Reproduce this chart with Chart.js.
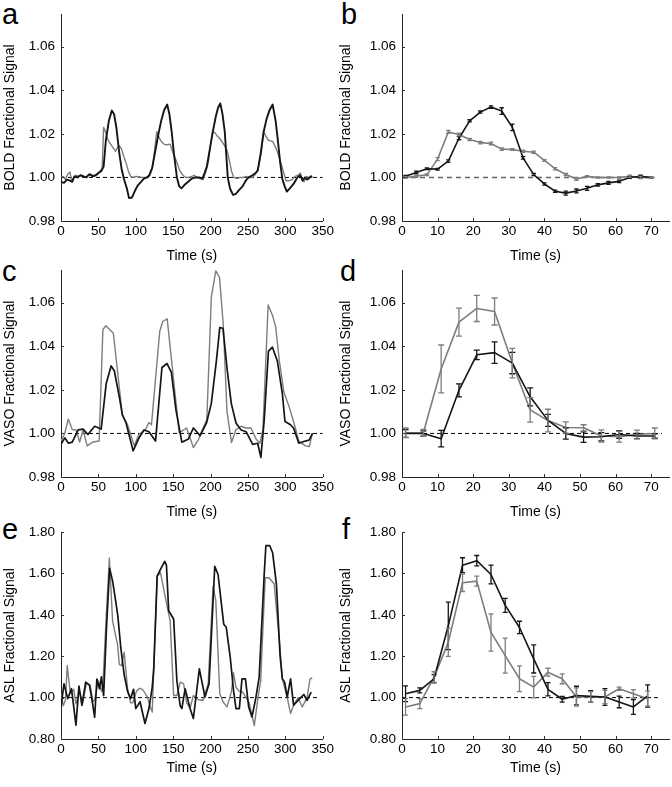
<!DOCTYPE html>
<html><head><meta charset="utf-8">
<script src="https://cdn.jsdelivr.net/npm/chart.js@4.4.1/dist/chart.umd.min.js"></script>
<style>
html,body{margin:0;padding:0;background:#fff;width:672px;height:787px;overflow:hidden;position:relative;}
canvas{position:absolute;}
.letter{position:absolute;font-family:"Liberation Sans",Arial,sans-serif;font-size:29px;line-height:29px;color:#000;}
</style></head><body>
<div class="letter" style="left:2px;top:0px">a</div>
<div class="letter" style="left:341px;top:0px">b</div>
<div class="letter" style="left:2px;top:257px">c</div>
<div class="letter" style="left:340px;top:257px">d</div>
<div class="letter" style="left:2px;top:515px">e</div>
<div class="letter" style="left:342px;top:515px">f</div>
<canvas id="pa" width="336" height="265" style="left:0;top:0"></canvas>
<canvas id="pb" width="336" height="265" style="left:336px;top:0"></canvas>
<canvas id="pc" width="336" height="265" style="left:0;top:256px"></canvas>
<canvas id="pd" width="336" height="265" style="left:336px;top:256px"></canvas>
<canvas id="pe" width="336" height="259" style="left:0;top:518px"></canvas>
<canvas id="pf" width="336" height="259" style="left:336px;top:518px"></canvas>
<script>
// ---------- DATA ----------
const timeTicksRun = [0,50,100,150,200,250,300,350];
const timeTicksAvg = [0,10,20,30,40,50,60,70];
const fracTicks = [0.98,1.00,1.02,1.04,1.06];
const aslTicks = [0.80,1.00,1.20,1.40,1.60,1.80];

// a: BOLD run, [time, signal]
const boldRunBlack = [[0,0.998],[4,0.9975],[8,0.999],[12,0.9985],[15,0.998],[18,1.0005],[22,1.0],[26,1.001],[30,1.0005],[34,1.0],[38,1.0015],[42,1.0005],[46,1.001],[50,1.002],[54,1.003],[57,1.005],[60,1.017],[64,1.026],[68,1.0307],[71,1.029],[74,1.023],[78,1.011],[81,1.004],[84,0.9995],[88,0.995],[91,0.9905],[95,0.9908],[99,0.994],[103,0.9965],[107,0.998],[111,0.9995],[115,1.0],[118,1.001],[122,1.0045],[126,1.012],[130,1.0195],[134,1.026],[138,1.031],[142,1.0335],[145,1.029],[148,1.021],[151,1.011],[155,1.0],[158,0.996],[161,0.995],[165,0.9965],[170,0.998],[175,0.9995],[180,1.0],[185,1.0],[189,0.9995],[192,1.002],[195,1.005],[199,1.013],[203,1.021],[207,1.028],[210,1.032],[213,1.034],[216,1.029],[219,1.021],[223,1.0],[226,0.995],[230,0.992],[234,0.9925],[238,0.9942],[243,0.996],[247,0.9985],[251,1.0],[256,1.001],[260,1.002],[263,1.003],[267,1.011],[271,1.021],[275,1.027],[279,1.031],[283,1.0335],[287,1.026],[290,1.017],[293,1.007],[296,0.9993],[299,0.996],[302,0.9935],[306,0.995],[311,0.997],[316,1.0],[320,1.001],[323,0.9985],[326,1.0],[329,0.999],[333,1.0],[336,1.0005]];
const boldRunGray = [[0,1.0],[3,1.0005],[6,0.999],[9,1.0015],[12,1.0025],[14,0.9985],[17,1.0],[20,1.001],[24,1.0005],[28,1.001],[32,1.0],[36,1.001],[40,1.0015],[44,1.0005],[48,1.001],[52,1.003],[55,1.004],[57,1.023],[60,1.0205],[62,1.018],[64,1.0165],[67,1.015],[70,1.0135],[73,1.012],[75,1.0135],[78,1.0145],[81,1.013],[84,1.0095],[87,1.0068],[90,1.003],[93,1.0005],[97,1.0],[100,1.0005],[104,1.0003],[108,1.0],[112,1.0],[116,1.0],[119,1.001],[122,1.004],[125,1.012],[128,1.021],[131,1.0185],[134,1.0165],[138,1.0152],[142,1.015],[146,1.0153],[149,1.012],[152,1.0095],[156,1.006],[159,1.003],[163,1.001],[167,1.0],[171,1.0],[175,1.0005],[178,1.001],[182,1.0],[186,0.9995],[190,0.999],[194,1.003],[197,1.007],[200,1.015],[203,1.021],[206,1.0205],[209,1.019],[212,1.018],[215,1.0165],[219,1.0145],[222,1.0125],[225,1.008],[228,1.003],[231,1.0],[235,0.9995],[240,1.0],[244,1.0],[248,1.0005],[252,1.0],[256,1.0],[260,1.0015],[264,1.0045],[268,1.012],[271,1.021],[274,1.019],[277,1.0172],[280,1.0168],[283,1.0165],[286,1.0145],[289,1.012],[292,1.009],[295,1.0055],[298,1.002],[301,0.9985],[305,0.9985],[309,0.999],[313,1.0005],[317,1.001],[320,1.002],[322,0.999],[325,0.998],[328,1.0005],[331,1.0],[335,1.001]];

// b: BOLD average
const boldAvgTime = [1,4,7,10,13,16,19,22,25,28,31,34,37,40,43,46,49,52,55,58,61,64,67,70];
const boldAvgBlack = [1.0005,1.0023,1.0040,1.0038,1.0075,1.018,1.026,1.030,1.0323,1.0305,1.023,1.009,1.0013,0.997,0.9937,0.9928,0.9938,0.995,0.9966,0.9975,0.9982,1.0,1.0005,1.0];
const boldErrBlack = [0.0004,0.0006,0.0004,0.0004,0.0006,0.0007,0.0005,0.0005,0.0006,0.0015,0.0015,0.0006,0.0005,0.0005,0.0005,0.0009,0.0009,0.0009,0.0006,0.0007,0.0006,0.0004,0.0005,0.0003];
const boldAvgGray = [1.0,1.0006,1.0012,1.0084,1.0209,1.0197,1.0174,1.016,1.0156,1.013,1.0128,1.012,1.0116,1.0078,1.004,1.0014,0.9993,1.0005,1.0,1.0,1.0,1.0005,1.0,1.0];
const boldErrGray = [0.0004,0.0006,0.0004,0.0007,0.0007,0.0006,0.0005,0.0006,0.0006,0.0006,0.0004,0.0005,0.0005,0.0004,0.0005,0.0005,0.0006,0.0003,0.0003,0.0003,0.0003,0.0005,0.0005,0.0003];

// c: VASO run
const vasoRunBlack = [[0,0.995],[5,0.998],[10,0.9955],[15,0.996],[23,1.0016],[29.5,1.002],[36,0.9995],[45,1.0033],[53.7,1.002],[60.4,1.0228],[67,1.031],[71.3,1.0288],[78,1.0168],[82,1.0086],[87,1.0048],[96.4,0.992],[104.4,0.998],[111,1.0016],[117.6,1.0008],[126.4,0.9965],[135,1.0303],[141.8,1.0321],[147.6,1.028],[153.7,1.0108],[161.6,0.996],[170.4,0.9975],[177,1.0025],[186,0.999],[194.6,1.0048],[201,1.0138],[207.8,1.0333],[212.3,1.0486],[216.6,1.0483],[222.4,1.0288],[227.7,1.0138],[234,1.0048],[240.8,1.0016],[247.5,1.0008],[256.3,0.995],[263,0.9955],[267.3,0.989],[271.7,1.006],[277.4,1.0378],[282.7,1.0396],[289.3,1.0333],[296,1.0183],[299.5,1.0055],[306.9,1.004],[311,1.0025],[318,0.9955],[326.6,0.9965],[332,0.997],[336.4,1.0]];
const vasoRunGray = [[0,0.9965],[5,1.0],[9.7,1.0066],[15,1.0018],[20,1.0016],[25,0.9961],[29.5,1.0016],[35,0.9943],[43,0.9961],[51,0.9965],[56,1.0476],[60,1.0495],[70,1.046],[76,1.0273],[82,1.0086],[89,1.004],[98,0.9943],[104,0.9995],[113,1.0018],[117.6,1.005],[121,1.004],[132,1.0468],[136,1.0514],[142,1.0526],[158,1.0003],[168,1.0025],[177,0.9935],[184,0.9973],[190,1.0025],[195,1.0063],[201,1.0626],[207,1.0746],[212,1.0716],[217,1.0499],[222,1.01],[228,0.9958],[234,1.0018],[241,1.0033],[247,1.0025],[254,1.0025],[261,0.9973],[266,0.9955],[270,1.0018],[277,1.059],[283,1.054],[287,1.049],[292,1.0333],[298,1.019],[305,1.0123],[311,1.0055],[318,0.9965],[327,0.9943],[332,0.994],[336,1.0]];

// d: VASO average
const vasoAvgTime = [1,6,11,16,21,26,31,36,41,46,51,56,61,66,71];
const vasoAvgGray = [1.0003,1.0003,1.0296,1.0511,1.0574,1.056,1.0323,1.0108,1.0059,1.0027,1.0026,0.9988,0.9985,0.9995,1.0];
const vasoErrGray = [0.0022,0.0015,0.011,0.0064,0.006,0.0062,0.0068,0.0056,0.0052,0.0026,0.0014,0.0028,0.0025,0.002,0.0025];
const vasoAvgBlack = [1.0,1.0,0.9976,1.0198,1.0361,1.0371,1.0323,1.0168,1.006,1.0,0.9983,0.9985,0.9995,0.9988,0.9988];
const vasoErrBlack = [0.0018,0.0012,0.0038,0.003,0.0022,0.0049,0.0049,0.0041,0.0028,0.0026,0.0024,0.0019,0.0018,0.0012,0.001];

// e: ASL run
const aslRunBlack = [[0,0.955],[4,1.067],[9,0.995],[14,1.043],[20,0.867],[24,1.056],[28,0.963],[33,1.075],[38,1.06],[41,1.0],[45,0.905],[48,1.09],[51.5,1.043],[54,1.1],[57,1.01],[61,1.35],[65,1.625],[69,1.563],[73,1.47],[76,1.395],[80,1.24],[84.5,1.11],[89,1.03],[93,0.995],[97,1.04],[100,0.947],[105.7,0.98],[112.3,0.875],[117.6,0.947],[122,1.05],[124,1.14],[128.6,1.587],[133,1.62],[138.7,1.659],[141,1.64],[144,1.42],[150.6,1.38],[155,1.08],[159.4,0.96],[161.6,0.947],[166,1.043],[172.6,0.947],[177,0.899],[185,1.139],[192.5,1.003],[198,1.067],[205.6,1.635],[210,1.595],[217.6,1.355],[221,1.34],[226.3,1.195],[230.7,1.035],[234,0.947],[238.5,0.947],[242,1.091],[246.6,1.091],[251,0.955],[255.4,0.907],[260.6,1.0],[265,1.099],[271.7,1.595],[274,1.735],[279,1.735],[283,1.70],[288,1.55],[293,1.2],[296,1.091],[299,1.075],[302.5,1.003],[307,1.091],[311,0.963],[317,0.987],[324.7,1.015],[329,0.987],[334.6,1.027]];
const aslRunGray = [[0,1.02],[3,0.96],[6,0.99],[8.3,1.155],[12.5,1.02],[17,1.04],[20,0.97],[24.6,1.03],[29,0.975],[34,1.07],[39,1.06],[42.7,0.98],[45,0.99],[50,1.08],[54,1.03],[56,1.06],[60.4,1.387],[64.7,1.675],[69,1.37],[75.7,1.255],[78,1.16],[81,1.155],[84.5,1.22],[89,1.045],[93,0.975],[96,0.975],[100.8,1.03],[105,1.045],[109,1.04],[115.4,1.005],[119,0.96],[122,0.93],[128.6,1.587],[133,1.605],[139.6,1.483],[146,1.37],[150.6,1.01],[155,1.01],[159.4,1.075],[164,1.067],[168,0.975],[172.6,0.95],[177,1.01],[183.6,0.99],[190,0.987],[196.8,1.067],[203.4,1.539],[207,1.47],[212.3,1.02],[216.6,0.98],[222,0.955],[228,1.03],[230.7,1.12],[234,1.05],[238.5,1.03],[243,1.027],[247.5,1.0],[251.6,0.975],[258.5,0.865],[263,0.99],[267,1.08],[273,1.579],[278,1.579],[285,1.55],[292.4,1.26],[296,1.09],[302.5,1.0],[307,0.923],[311,0.963],[317,1.0],[322.6,0.955],[329,1.0],[333,1.09],[336,1.095]];

// f: ASL average
const aslAvgTime = [1,5,9,13,17,21,25,29,33,37,41,45,49,53,57,61,65,69];
const aslAvgBlack = [1.019,1.035,1.091,1.347,1.64,1.662,1.595,1.446,1.339,1.187,1.04,0.992,1.01,1.006,1.003,0.979,0.955,1.008];
const aslErrBlack = [0.038,0.012,0.02,0.115,0.036,0.025,0.045,0.034,0.03,0.068,0.032,0.014,0.045,0.028,0.04,0.028,0.036,0.054];
const aslAvgGray = [0.955,0.971,1.099,1.267,1.555,1.563,1.315,1.203,1.091,1.051,1.123,1.091,1.003,1.003,1.003,1.043,1.019,0.995];
const aslErrGray = [0.04,0.024,0.026,0.068,0.042,0.024,0.09,0.085,0.062,0.052,0.019,0.024,0.044,0.026,0.032,0.008,0.02,0.036];

// ---------- RENDERING ----------
const FONT = '"Liberation Sans", Arial, sans-serif';
const BLACK = '#151515', GRAY = '#7d7d7d';
const fromPairs = p => p.map(([x, y]) => ({x, y}));
const zip = (t, v) => t.map((x, i) => ({x, y: v[i]}));

const errorBars = {
  id: 'errorBars',
  afterDatasetsDraw(chart) {
    const ctx = chart.ctx, xs = chart.scales.x, ys = chart.scales.y;
    chart.data.datasets.forEach(ds => {
      if (!ds.errors) return;
      ctx.save();
      ctx.strokeStyle = ds.borderColor;
      ctx.lineWidth = 1.3;
      const c = ds.capHalf || 2.5;
      ds.data.forEach((p, i) => {
        const e = ds.errors[i];
        const x = xs.getPixelForValue(p.x);
        const y1 = ys.getPixelForValue(p.y - e), y2 = ys.getPixelForValue(p.y + e);
        ctx.beginPath();
        ctx.moveTo(x, y1); ctx.lineTo(x, y2);
        ctx.moveTo(x - c, y1); ctx.lineTo(x + c, y1);
        ctx.moveTo(x - c, y2); ctx.lineTo(x + c, y2);
        ctx.stroke();
      });
      ctx.restore();
    });
  }
};
const inwardTicks = {
  id: 'inwardTicks',
  afterDraw(chart) {
    const ctx = chart.ctx, a = chart.chartArea;
    ctx.save(); ctx.strokeStyle = '#333'; ctx.lineWidth = 1;
    ctx.beginPath();
    chart.scales.y.ticks.forEach(t => { const y = Math.round(chart.scales.y.getPixelForValue(t.value)) + 0.5; ctx.moveTo(a.left, y); ctx.lineTo(a.left + 3, y); });
    chart.scales.x.ticks.forEach(t => { const x = Math.round(chart.scales.x.getPixelForValue(t.value)) + 0.5; ctx.moveTo(x, a.bottom); ctx.lineTo(x, a.bottom - 3); });
    ctx.stroke(); ctx.restore();
  }
};

function line(data, color, width, extra) {
  return Object.assign({data, borderColor: color, borderWidth: width, pointRadius: 0, tension: 0, fill: false, borderJoinStyle: 'round'}, extra || {});
}
function baseline(xEnd, color, width, dash) {
  return line([{x: 0, y: 1}, {x: xEnd, y: 1}], color, width, {borderDash: dash});
}

function makePanel(id, o) {
  new Chart(document.getElementById(id), {
    type: 'line',
    data: {datasets: o.datasets},
    options: {
      responsive: false, animation: false, events: [],
      layout: {padding: {top: 12, right: o.padRight, left: 0, bottom: 0}},
      plugins: {legend: {display: false}, tooltip: {enabled: false}},
      scales: {
        x: {
          type: 'linear', min: 0, max: o.xMax,
          afterBuildTicks: s => { s.ticks = o.xTicks.map(v => ({value: v})); },
          afterFit: s => { s.height = o.xH; },
          grid: {display: false, drawTicks: false},
          border: {display: true, color: '#222', width: 1},
          ticks: {padding: 2, color: '#000', autoSkip: false, maxRotation: 0, font: {family: FONT, size: 13.5}, callback: v => String(v)},
          title: {display: true, text: 'Time (s)', color: '#000', font: {family: FONT, size: 14}, padding: {top: 0, bottom: o.xTitlePad}}
        },
        y: {
          type: 'linear', min: o.yMin, max: o.yMax,
          afterBuildTicks: s => { s.ticks = o.yTicks.map(v => ({value: v})); },
          afterFit: s => { s.width = o.yW; },
          grid: {display: false, drawTicks: false},
          border: {display: true, color: '#222', width: 1},
          ticks: {padding: 6, color: '#000', autoSkip: false, font: {family: FONT, size: 13.5}, callback: v => Number(v).toFixed(2)},
          title: {display: true, text: o.yTitle, color: '#000', font: {family: FONT, size: 14}, padding: {top: 1.6, bottom: 0}}
        }
      }
    },
    plugins: [errorBars, inwardTicks]
  });
}

const L = {xMax: 350, xTicks: timeTicksRun, yW: 61, padRight: 11};
const R = {xMax: 75, xTicks: timeTicksAvg, yW: 66, padRight: 3};

makePanel('pa', Object.assign({}, L, {
  yMin: 0.98, yMax: 1.075, yTicks: fracTicks, yTitle: 'BOLD Fractional Signal', xH: 44, xTitlePad: 0,
  datasets: [line(fromPairs(boldRunBlack), BLACK, 1.9), line(fromPairs(boldRunGray), GRAY, 1.4), baseline(350, '#000', 1, [4, 3])]
}));
makePanel('pb', Object.assign({}, R, {
  yMin: 0.98, yMax: 1.075, yTicks: fracTicks, yTitle: 'BOLD Fractional Signal', xH: 44, xTitlePad: 0,
  datasets: [
    line(zip(boldAvgTime, boldAvgBlack), BLACK, 1.6, {errors: boldErrBlack, capHalf: 2.2}),
    line(zip(boldAvgTime, boldAvgGray), GRAY, 1.6, {errors: boldErrGray, capHalf: 2.2}),
    baseline(71, '#666', 1.5, [5, 4])]
}));
makePanel('pc', Object.assign({}, L, {
  yMin: 0.98, yMax: 1.075, yTicks: fracTicks, yTitle: 'VASO Fractional Signal', xH: 44, xTitlePad: 0,
  datasets: [line(fromPairs(vasoRunBlack), BLACK, 1.7), line(fromPairs(vasoRunGray), GRAY, 1.4), baseline(350, '#000', 1, [4, 3])]
}));
makePanel('pd', Object.assign({}, R, {
  yMin: 0.98, yMax: 1.075, yTicks: fracTicks, yTitle: 'VASO Fractional Signal', xH: 44, xTitlePad: 0,
  datasets: [
    line(zip(vasoAvgTime, vasoAvgBlack), BLACK, 1.6, {errors: vasoErrBlack, capHalf: 3}),
    line(zip(vasoAvgTime, vasoAvgGray), GRAY, 1.6, {errors: vasoErrGray, capHalf: 3}),
    baseline(73, '#000', 1, [4, 3])]
}));
makePanel('pe', Object.assign({}, L, {
  yMin: 0.8, yMax: 1.8, yTicks: aslTicks, yTitle: 'ASL Fractional Signal', xH: 38, xTitlePad: 0.6,
  datasets: [line(fromPairs(aslRunBlack), BLACK, 1.7), line(fromPairs(aslRunGray), GRAY, 1.4), baseline(346, '#000', 1, [4, 3])]
}));
makePanel('pf', Object.assign({}, R, {
  yMin: 0.8, yMax: 1.8, yTicks: aslTicks, yTitle: 'ASL Fractional Signal', xH: 38, xTitlePad: 0.6,
  datasets: [
    line(zip(aslAvgTime, aslAvgBlack), BLACK, 1.6, {errors: aslErrBlack, capHalf: 2.5}),
    line(zip(aslAvgTime, aslAvgGray), GRAY, 1.6, {errors: aslErrGray, capHalf: 2.5}),
    baseline(72, '#000', 1, [4, 3])]
}));
</script>
</body></html>
